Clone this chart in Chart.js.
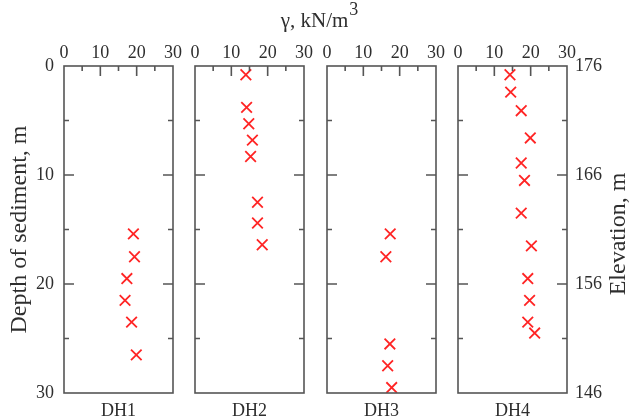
<!DOCTYPE html>
<html lang="en">
<head>
<meta charset="UTF-8">
<title>Unit weight vs depth, DH1-DH4</title>
<script src="https://cdn.jsdelivr.net/npm/chart.js"></script>
<style>
  body { margin: 0; background: #fff; }
  #wrap { position: relative; width: 630px; height: 416px; }
  #wrap canvas { position: absolute; left: 0; top: 0; }
</style>
</head>
<body>
<div id="wrap">
  <canvas id="c1" width="630" height="416"></canvas>
  <canvas id="c2" width="630" height="416"></canvas>
  <canvas id="c3" width="630" height="416"></canvas>
  <canvas id="c4" width="630" height="416"></canvas>
</div>
<script>
// unit weight (kN/m3) against depth (m) for each borehole
const holes = ['DH1', 'DH2', 'DH3', 'DH4'];

const dh1Depth = [15.4, 17.5, 19.5, 21.5, 23.5, 26.5];
const dh1Gamma = [19.1, 19.4, 17.3, 16.8, 18.6, 19.9];

const dh2Depth = [0.8, 3.8, 5.3, 6.8, 8.3, 12.5, 14.4, 16.4];
const dh2Gamma = [14.0, 14.2, 14.8, 15.8, 15.3, 17.2, 17.2, 18.5];

const dh3Depth = [15.4, 17.5, 25.5, 27.5, 29.5];
const dh3Gamma = [17.4, 16.2, 17.3, 16.7, 17.8];

const dh4Depth = [0.8, 2.4, 4.1, 6.6, 8.9, 10.5, 13.5, 16.5, 19.5, 21.5, 23.5, 24.5];
const dh4Gamma = [14.3, 14.5, 17.4, 19.9, 17.4, 18.3, 17.4, 20.2, 19.2, 19.7, 19.2, 21.1];

const gammaTicks = [0, 10, 20, 30];
const depthTicks = [0, 10, 20, 30];
const elevTicks = [146, 156, 166, 176];

const xTitle = 'γ, kN/m';
const xTitleSup = '3';
const yTitle = 'Depth of sediment, m';
const y2Title = 'Elevation, m';

const depthSets = [dh1Depth, dh2Depth, dh3Depth, dh4Depth];
const gammaSets = [dh1Gamma, dh2Gamma, dh3Gamma, dh4Gamma];

// where each panel's plot box sits on the page
const boxLeft = [64, 195, 327, 458];
const boxRight = [173, 304, 436, 567];

const serif = "'Liberation Serif', 'Times New Roman', serif";
const textColor = '#2e2e2e';
const frameColor = '#555';

// frame plus inward ticks (long every 10, short every 5)
const frameTicks = {
  id: 'frameTicks',
  afterDatasetsDraw(chart) {
    const { ctx, chartArea: a, scales: { x, y } } = chart;
    ctx.save();
    ctx.strokeStyle = frameColor;
    ctx.lineWidth = 1.6;
    ctx.strokeRect(a.left, a.top, a.right - a.left, a.bottom - a.top);
    ctx.beginPath();
    for (let v = x.min + 5; v < x.max; v += 5) {
      const px = x.getPixelForValue(v);
      const len = v % 10 === 0 ? 10 : 5;
      ctx.moveTo(px, a.top);
      ctx.lineTo(px, a.top + len);
    }
    for (let d = y.min + 5; d < y.max; d += 5) {
      const py = y.getPixelForValue(d);
      const len = d % 10 === 0 ? 10 : 5;
      ctx.moveTo(a.left, py);
      ctx.lineTo(a.left + len, py);
      ctx.moveTo(a.right, py);
      ctx.lineTo(a.right - len, py);
    }
    ctx.stroke();
    ctx.restore();
  }
};

// shared top title and the right-hand title (reads bottom to top)
const sideTitles = {
  id: 'sideTitles',
  afterDraw(chart) {
    const ctx = chart.ctx;
    ctx.save();
    ctx.fillStyle = textColor;
    ctx.font = '21px ' + serif;
    const w1 = ctx.measureText(xTitle).width;
    ctx.font = '18px ' + serif;
    const w2 = ctx.measureText(xTitleSup).width;
    const x0 = 319 - (w1 + w2) / 2;
    ctx.textBaseline = 'alphabetic';
    ctx.textAlign = 'left';
    ctx.font = '21px ' + serif;
    ctx.fillText(xTitle, x0, 27);
    ctx.font = '18px ' + serif;
    ctx.fillText(xTitleSup, x0 + w1 + 1, 15);

    ctx.translate(619, 234);
    ctx.rotate(-Math.PI / 2);
    ctx.font = '24px ' + serif;
    ctx.textAlign = 'center';
    ctx.textBaseline = 'middle';
    ctx.fillText(y2Title, 0, 0);
    ctx.restore();
  }
};

function makePanel(i) {
  const first = i === 0;
  const last = i === holes.length - 1;
  const points = depthSets[i].map((d, k) => ({ x: gammaSets[i][k], y: d }));
  const tickFont = { family: serif, size: 18 };

  return new Chart(document.getElementById('c' + (i + 1)), {
    type: 'scatter',
    data: {
      datasets: [{
        label: holes[i],
        data: points,
        pointStyle: 'crossRot',
        pointRadius: 7.5,
        pointHoverRadius: 7.5,
        borderColor: '#ff2424',
        backgroundColor: '#ff2424',
        borderWidth: 1.8
      }]
    },
    options: {
      responsive: false,
      animation: false,
      events: [],
      layout: { padding: { left: boxLeft[i] - 64, right: 567 - boxRight[i], top: 0, bottom: 0 } },
      plugins: {
        legend: { display: false },
        tooltip: { enabled: false }
      },
      scales: {
        x: {
          type: 'linear',
          position: 'top',
          min: 0,
          max: 30,
          afterBuildTicks: s => { s.ticks = gammaTicks.map(v => ({ value: v })); },
          grid: { display: false, drawTicks: false },
          border: { display: false },
          ticks: { padding: 2, color: textColor, font: tickFont, maxRotation: 0 },
          afterFit: s => { s.height = 66; }
        },
        xb: {
          type: 'linear',
          position: 'bottom',
          min: 0,
          max: 30,
          grid: { display: false, drawTicks: false },
          border: { display: false },
          ticks: { display: false },
          title: {
            display: true,
            text: holes[i],
            color: textColor,
            font: { family: serif, size: 18, lineHeight: 1 },
            padding: { top: 0, bottom: -4 }
          },
          afterFit: s => { s.height = 23; }
        },
        y: {
          type: 'linear',
          position: 'left',
          reverse: true,
          min: 0,
          max: 30,
          afterBuildTicks: s => { s.ticks = depthTicks.map(v => ({ value: v })); },
          grid: { display: false, drawTicks: false },
          border: { display: false },
          ticks: { display: first, padding: 10, color: textColor, font: tickFont },
          title: {
            display: first,
            text: yTitle,
            color: textColor,
            font: { family: serif, size: 24, lineHeight: 1.2 },
            padding: { top: 5, bottom: 0 }
          },
          afterFit: s => { s.width = 64; }
        },
        y2: {
          type: 'linear',
          position: 'right',
          min: 146,
          max: 176,
          afterBuildTicks: s => { s.ticks = elevTicks.map(v => ({ value: v })); },
          grid: { display: false, drawTicks: false },
          border: { display: false },
          ticks: { display: last, padding: 8, color: textColor, font: tickFont },
          afterFit: s => { s.width = 63; }
        }
      }
    },
    plugins: last ? [frameTicks, sideTitles] : [frameTicks]
  });
}

holes.forEach((h, i) => makePanel(i));
</script>
</body>
</html>
